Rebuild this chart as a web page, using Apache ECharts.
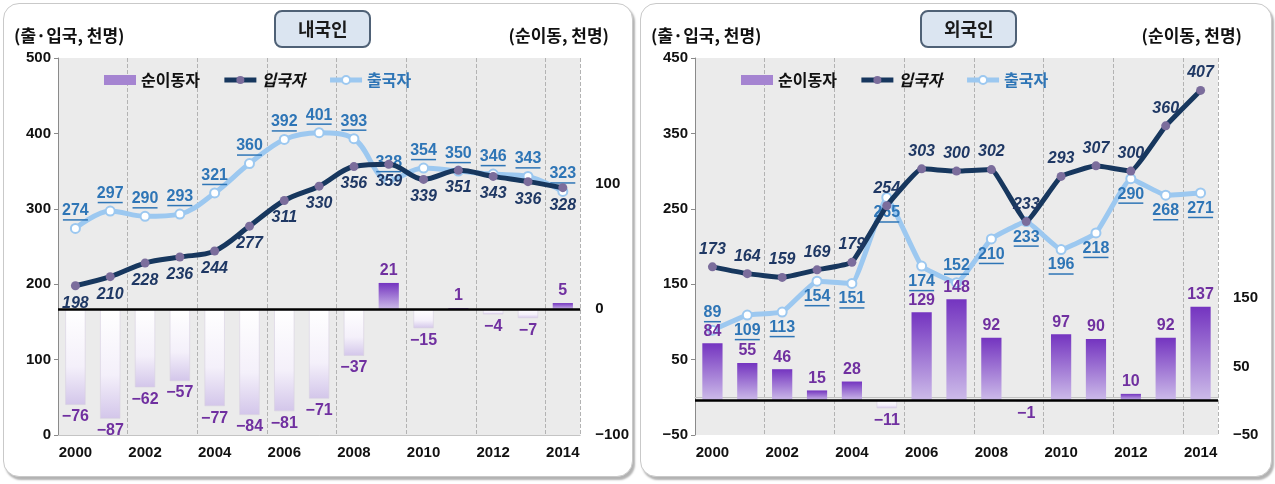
<!DOCTYPE html>
<html>
<head>
<meta charset="utf-8">
<script src="https://cdn.jsdelivr.net/npm/echarts@6/dist/echarts.min.js"></script>
<style>
  html, body { margin: 0; padding: 0; background: #fff; }
  .panel {
    position: absolute;
    top: 3px;
    height: 474px;
    box-sizing: border-box;
    border: 1px solid #c9c9c9;
    border-radius: 16px;
    box-shadow: 2px 3px 2px rgba(0, 0, 0, 0.3);
    background: #fff;
  }
  .chart { position: absolute; left: 0; top: 0; width: 100%; height: 100%; }
</style>
</head>
<body>
<div class="panel" style="left:3px;width:630px"><div id="kr" class="chart"></div></div>
<div class="panel" style="left:640px;width:632px"><div id="fg" class="chart"></div></div>
<script>
// years on the x axis
const years = ['2000', '2001', '2002', '2003', '2004', '2005', '2006', '2007',
  '2008', '2009', '2010', '2011', '2012', '2013', '2014'];

// 내국인 (천명)
const krIn = [198, 210, 228, 236, 244, 277, 311, 330, 356, 359, 339, 351, 343, 336, 328];
const krOut = [274, 297, 290, 293, 321, 360, 392, 401, 393, 338, 354, 350, 346, 343, 323];
const krNet = [-76, -87, -62, -57, -77, -84, -81, -71, -37, 21, -15, 1, -4, -7, 5];

// 외국인 (천명)
const fgIn = [173, 164, 159, 169, 179, 254, 303, 300, 302, 233, 293, 307, 300, 360, 407];
const fgOut = [89, 109, 113, 154, 151, 265, 174, 152, 210, 233, 196, 218, 290, 268, 271];
const fgNet = [84, 55, 46, 15, 28, -11, 129, 148, 92, -1, 97, 90, 10, 92, 137];

// tick labels
const krLeftTicks = [0, 100, 200, 300, 400, 500];
const krRightTicks = [-100, 0, 100];
const fgLeftTicks = [-50, 50, 150, 250, 350, 450];
const fgRightTicks = [-50, 50, 150];

const CJK = "'Noto Sans CJK KR', 'Noto Sans', sans-serif";
const NUM = "'Liberation Sans Narrow', 'Arial Narrow', 'Liberation Sans', sans-serif";

const fmt = (v) => (v < 0 ? '\u2212' + Math.abs(v) : String(v));

const posGrad = new echarts.graphic.LinearGradient(0, 0, 0, 1, [
  { offset: 0, color: '#7434c0' },
  { offset: 1, color: '#cdbce9' },
]);
const negGrad = new echarts.graphic.LinearGradient(0, 0, 0, 1, [
  { offset: 0, color: '#ffffff' },
  { offset: 0.6, color: '#f4f0fa' },
  { offset: 1, color: '#d3c6ea' },
]);

function makeOption(c) {
  return {
    animation: false,
    title: [
      {
        text: c.title,
        left: c.titleLeft,
        top: 7,
        padding: [9, 23],
        backgroundColor: '#dbe5f1',
        borderColor: '#4f6176',
        borderWidth: 2,
        borderRadius: 7,
        textStyle: { fontFamily: CJK, fontSize: 18, fontWeight: 'bold', color: '#1a1a1a' },
      },
      {
        text: '(출·입국, 천명)',
        left: 5,
        top: 18,
        textStyle: { fontFamily: CJK, fontSize: 17, fontWeight: 'bold', color: '#111' },
      },
      {
        text: '(순이동, 천명)',
        right: c.unitRight,
        top: 18,
        textStyle: { fontFamily: CJK, fontSize: 17, fontWeight: 'bold', color: '#111' },
      },
    ],
    legend: {
      left: 95,
      top: 63,
      itemWidth: 32,
      itemHeight: 10,
      itemGap: 22,
      textStyle: { fontFamily: CJK, fontSize: 16, fontWeight: 'bold', color: '#111' },
      data: [
        { name: '순이동자', icon: 'rect', itemStyle: { color: '#a584d1' } },
        { name: '입국자', lineStyle: { width: 5 }, textStyle: { fontStyle: 'italic' } },
        { name: '출국자', lineStyle: { width: 5 }, textStyle: { color: '#2e75b6' } },
      ],
    },
    grid: {
      left: 54,
      right: c.gridRight,
      top: 54,
      bottom: 41,
      show: true,
      backgroundColor: '#ebebeb',
      borderWidth: 0,
    },
    xAxis: {
      type: 'category',
      data: years,
      axisLine: { show: true, lineStyle: { color: '#c4c4c4' } },
      axisTick: { show: false },
      axisLabel: {
        interval: 1,
        margin: 10,
        color: '#111',
        fontFamily: NUM,
        fontSize: 15,
        fontWeight: 'bold',
      },
      splitLine: {
        show: true,
        lineStyle: { color: '#b3b3b3', type: 'dashed', width: 1 },
      },
    },
    yAxis: [
      {
        type: 'value',
        min: c.leftMin,
        max: c.leftMax,
        interval: 50,
        axisLine: { show: true, lineStyle: { color: '#8a8a8a' } },
        axisTick: { show: true, length: 4, customValues: c.leftTicks, lineStyle: { color: '#8a8a8a' } },
        axisLabel: {
          customValues: c.leftTicks,
          margin: 7,
          color: '#111',
          fontFamily: NUM,
          fontSize: 15,
          fontWeight: 'bold',
          formatter: fmt,
        },
        splitLine: { show: false },
      },
      {
        type: 'value',
        min: c.rightMin,
        max: c.rightMax,
        interval: 50,
        axisLine: { show: false },
        axisTick: { show: false },
        axisLabel: {
          customValues: c.rightTicks,
          margin: 15,
          color: '#111',
          fontFamily: NUM,
          fontSize: 15,
          fontWeight: 'bold',
          formatter: fmt,
        },
        splitLine: { show: false },
      },
    ],
    series: [
      {
        name: '순이동자',
        type: 'bar',
        yAxisIndex: 1,
        barWidth: '58%',
        z: 5,
        data: c.net.map((v) => ({
          value: v,
          itemStyle: v >= 0
            ? { color: posGrad }
            : { color: negGrad, borderColor: '#d6d0e0', borderWidth: 0.6 },
          label: { position: v >= 0 ? 'top' : 'bottom' },
        })),
        label: {
          show: true,
          distance: 4,
          color: '#7030a0',
          fontFamily: NUM,
          fontSize: 16,
          fontWeight: 'bold',
          formatter: (p) => fmt(p.value),
        },
        markLine: {
          z: 10,
          silent: true,
          symbol: 'none',
          label: { show: false },
          lineStyle: { color: '#000', width: 2.5, type: 'solid' },
          data: [{ yAxis: 0 }],
        },
      },
      {
        name: '입국자',
        type: 'line',
        yAxisIndex: 0,
        z: 4,
        smooth: c.smooth,
        symbol: 'circle',
        symbolSize: 9,
        data: c.inData,
        lineStyle: { color: '#17375e', width: 5 },
        itemStyle: { color: '#7b6d9c', borderWidth: 0 },
        label: {
          show: true,
          position: c.inPos,
          distance: 5,
          color: '#1f3864',
          fontFamily: NUM,
          fontSize: 16,
          fontWeight: 'bold',
          fontStyle: 'italic',
        },
      },
      {
        name: '출국자',
        type: 'line',
        yAxisIndex: 0,
        z: 3,
        smooth: c.smooth,
        symbol: 'circle',
        symbolSize: 9,
        data: c.outData,
        lineStyle: { color: '#9cc8f0', width: 5 },
        itemStyle: { color: '#ffffff', borderColor: '#9cc8f0', borderWidth: 2 },
        label: {
          show: true,
          position: c.outPos,
          distance: 2,
          formatter: (p) => '{v|' + p.value + '}\n{u' + String(p.value).length + '| }',
          rich: {
            v: { color: '#2e75b6', fontFamily: NUM, fontSize: 16, fontWeight: 'bold', lineHeight: 16 },
            u2: { width: 17, height: 1.5, lineHeight: 2, fontSize: 1, backgroundColor: '#2e75b6' },
            u3: { width: 25, height: 1.5, lineHeight: 2, fontSize: 1, backgroundColor: '#2e75b6' },
          },
        },
      },
    ],
  };
}

const krChart = echarts.init(document.getElementById('kr'));
krChart.setOption(makeOption({
  title: '내국인',
  titleLeft: 271,
  unitRight: 18,
  gridRight: 51,
  leftMin: 0,
  leftMax: 500,
  rightMin: -100,
  rightMax: 200,
  leftTicks: krLeftTicks,
  rightTicks: krRightTicks,
  net: krNet,
  inData: krIn,
  outData: krOut,
  inPos: 'bottom',
  outPos: 'top',
  smooth: 0.35,
}));

// 외국인: departures labelled below, except where the reference puts them above
const fgOutData = fgOut.map((v, i) => (i === 0 || i === 7 ? { value: v, label: { position: 'top' } } : v));

const fgChart = echarts.init(document.getElementById('fg'));
fgChart.setOption(makeOption({
  title: '외국인',
  titleLeft: 280,
  unitRight: 24,
  gridRight: 53,
  leftMin: -50,
  leftMax: 450,
  rightMin: -50,
  rightMax: 500,
  leftTicks: fgLeftTicks,
  rightTicks: fgRightTicks,
  net: fgNet,
  inData: fgIn,
  outData: fgOutData,
  inPos: 'top',
  outPos: 'bottom',
  smooth: 0.1,
}));
</script>
</body>
</html>
